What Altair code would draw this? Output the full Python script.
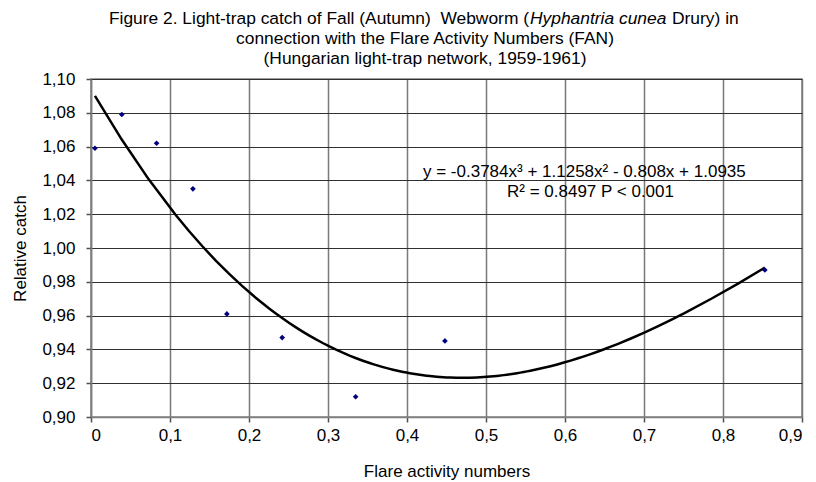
import altair as alt
import pandas as pd

# Data
fan = [0.005, 0.039, 0.083, 0.129, 0.172, 0.242, 0.335, 0.448, 0.853]
catch = [1.059, 1.079, 1.062, 1.035, 0.961, 0.947, 0.912, 0.945, 0.987]

x_ticks = [0, 0.1, 0.2, 0.3, 0.4, 0.5, 0.6, 0.7, 0.8, 0.9]
y_ticks = [0.90, 0.92, 0.94, 0.96, 0.98, 1.00, 1.02, 1.04, 1.06, 1.08, 1.10]

title_line1_a = "Figure 2. Light-trap catch of Fall (Autumn)\u00a0\u00a0Webworm ("
title_line1_b = "Hyphantria cunea"
title_line1_c = "Drury) in"
title_line2 = "connection with the Flare Activity Numbers (FAN)"
title_line3 = "(Hungarian light-trap network, 1959-1961)"
eq_line1 = "y = -0.3784x\u00b3 + 1.1258x\u00b2 - 0.808x + 1.0935"
eq_line2 = "R\u00b2 = 0.8497 P < 0.001"

FONT = "Liberation Sans"
FS = 17
TFS = 17.4

df = pd.DataFrame({"fan": fan, "catch": catch})

xscale = alt.Scale(domain=[0, 0.9], nice=False, zero=False)
yscale = alt.Scale(domain=[0.90, 1.10], nice=False, zero=False)

xaxis = alt.Axis(
    values=x_ticks, tickCount=20,
    labelExpr="datum.value == 0 ? '0' : replace(format(datum.value, '.1f'), '.', ',')",
    title="Flare activity numbers",
    grid=True, gridColor="#7a7a7a", gridWidth=1.5,
    tickSize=5, labelPadding=5, labelOverlap=False,
    titleY=59, titleBaseline="alphabetic",
)
yaxis = alt.Axis(
    values=y_ticks, tickCount=20,
    labelExpr="replace(format(datum.value, '.2f'), '.', ',')",
    title="Relative catch",
    grid=True, gridColor="#303030", gridWidth=1,
    tickSize=5, labelPadding=11, labelOverlap=False,
    titleX=-71, titleBaseline="middle",
)

base = alt.Chart(df)

points = base.mark_point(shape="diamond", filled=True, size=32, color="#000080", opacity=1).encode(
    x=alt.X("fan:Q", scale=xscale, axis=xaxis),
    y=alt.Y("catch:Q", scale=yscale, axis=yaxis),
)

curve = base.transform_regression(
    "fan", "catch", method="poly", order=3
).mark_line(color="black", strokeWidth=2.5).encode(
    x=alt.X("fan:Q", scale=xscale),
    y=alt.Y("catch:Q", scale=yscale),
)

one = pd.DataFrame({"k": [0]})

def txt(s, x, y, align="left", style="normal", fs=FS):
    return alt.Chart(one).mark_text(
        font=FONT, fontSize=fs, align=align, baseline="alphabetic",
        fontStyle=style, color="black",
    ).encode(x=alt.value(x), y=alt.value(y), text=alt.value(s))

t1a = txt(title_line1_a, 438, -55, align="right", fs=TFS)
t1b = txt(title_line1_b, 439, -55, style="italic", fs=TFS)
t1c = txt(title_line1_c, 581, -55, fs=TFS)
t2 = txt(title_line2, 334, -35, align="center", fs=TFS)
t3 = txt(title_line3, 334, -15, align="center", fs=TFS)
e1 = txt(eq_line1, 332, 98)
e2 = txt(eq_line2, 416, 118)

chart = alt.layer(curve, points, t1a, t1b, t1c, t2, t3, e1, e2).properties(
    width=711, height=338,
    autosize=alt.AutoSizeParams(type="none"),
    padding={"left": 83, "top": 71, "right": 6, "bottom": 63},
).configure_view(
    stroke="#808080", strokeWidth=1.5
).configure_axis(
    labelFont=FONT, titleFont=FONT, labelFontSize=FS, titleFontSize=FS,
    labelColor="black", titleColor="black", titleFontWeight="normal",
    domainColor="#808080", domainWidth=1.5, tickColor="#505050", tickWidth=1.5,
)

chart.save("out.html", embed_options={"renderer": "svg", "actions": False})
